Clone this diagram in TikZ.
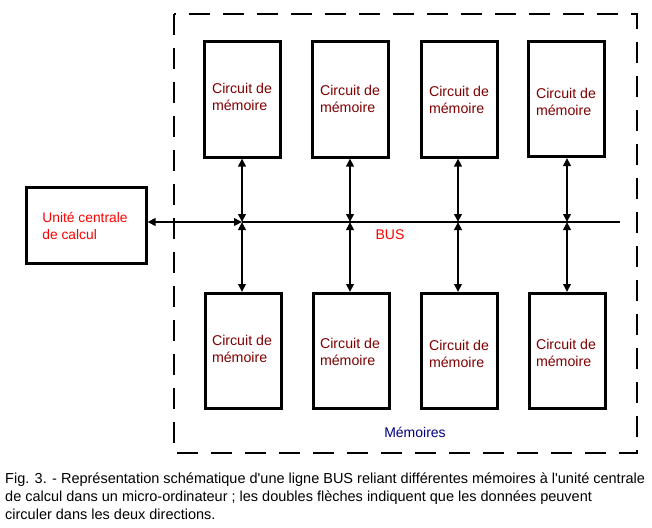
\documentclass[tikz,border=0pt]{standalone}
\usepackage{fontspec}
\setmainfont{Liberation Sans}
\usetikzlibrary{arrows.meta}
\definecolor{memred}{HTML}{800000}
\definecolor{cpured}{HTML}{FF0000}
\definecolor{navyb}{HTML}{000080}
\tikzset{
  membox/.style={draw, line width=3pt, minimum width=76pt, minimum height=115pt, inner sep=0pt},
  cpubox/.style={draw, line width=3pt, minimum width=120pt, minimum height=76pt, inner sep=0pt},
  memtext/.style={text=memred, font=\fontsize{14.2}{17}\selectfont, align=left, inner sep=0pt},
  link/.style={line width=2pt, {Triangle[length=8pt,width=7.5pt]}-{Triangle[length=8pt,width=7.5pt]}},
  plain/.style={line width=2pt},
  frame/.style={draw, line width=2pt, dash pattern=on 21pt off 13pt}
}
\begin{document}
\begin{tikzpicture}[x=1pt,y=-1pt]
\useasboundingbox (0,0) rectangle (652,527);
\draw[frame] (174,14) rectangle (637,453);
% CPU
\node[cpubox] (cpu) at (86,225) {};
\node[text=cpured, font=\fontsize{13.8}{17}\selectfont, align=left, inner sep=0pt] (cputxt) at (85,226) {Unité centrale\\de calcul};
% memory boxes
\node[membox] (t1) at (242.5,99.5) {};
\node[membox] (t2) at (350,99.5) {};
\node[membox] (t3) at (459,99.5) {};
\node[membox] (t4) at (566.5,99) {};
\node[membox] (b1) at (243,351) {};
\node[membox] (b2) at (351,351) {};
\node[membox] (b3) at (459.5,351) {};
\node[membox] (b4) at (567.5,351) {};
\node[memtext] (tt1) at (242,97) {Circuit de\\mémoire};
\node[memtext] (tt2) at (350,99) {Circuit de\\mémoire};
\node[memtext] (tt3) at (459,100) {Circuit de\\mémoire};
\node[memtext] (tt4) at (566,102) {Circuit de\\mémoire};
\node[memtext] (bt1) at (242,349) {Circuit de\\mémoire};
\node[memtext] (bt2) at (350,352) {Circuit de\\mémoire};
\node[memtext] (bt3) at (459,354) {Circuit de\\mémoire};
\node[memtext] (bt4) at (566,353) {Circuit de\\mémoire};
% bus
\coordinate (x1) at (242,222);
\coordinate (x2) at (350,222);
\coordinate (x3) at (458,222);
\coordinate (x4) at (567,222);
\coordinate (busend) at (620,222);
\draw[link] (cpu.east |- x1) -- (x1);
\draw[plain] (x1) -- (busend);
\foreach \i in {1,2,3,4}{
  \draw[link] (x\i |- t\i.south) -- (x\i);
  \draw[link] (x\i) -- (x\i |- b\i.north);
}
\node[text=cpured, font=\fontsize{14}{17}\selectfont, inner sep=0pt] (bus) at (390,235) {BUS};
\node[text=navyb, font=\fontsize{14}{17}\selectfont, inner sep=0pt] (mem) at (415,432) {Mémoires};
\node[anchor=north west, align=left, font=\fontsize{14.5}{18}\selectfont, inner sep=0pt] (cap) at (5,473)
{Fig. 3. - Représentation schématique d\textquotesingle une ligne BUS reliant différentes mémoires à l\textquotesingle unité centrale\\
de calcul dans un micro-ordinateur ; les doubles flèches indiquent que les données peuvent\\
circuler dans les deux directions.};
\end{tikzpicture}
\end{document}
